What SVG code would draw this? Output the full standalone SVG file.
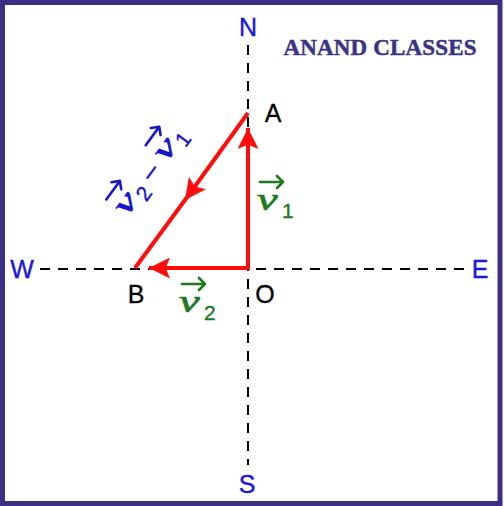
<svg xmlns="http://www.w3.org/2000/svg" width="504" height="506" viewBox="0 0 504 506">
<style>
.axis{stroke:#000;stroke-width:2;stroke-dasharray:10 8;fill:none}
.vec{stroke:#ff0d0d;stroke-width:4;fill:none}
.dir{font-family:"Liberation Sans",Arial,sans-serif;font-size:25px;fill:#1a1ad6;text-anchor:middle;stroke:#1a1ad6;stroke-width:0.4}
.pt{font-family:"Liberation Sans",Arial,sans-serif;font-size:25px;fill:#000;text-anchor:middle;stroke:#000;stroke-width:0.3}
.vv{font-family:"Liberation Serif","Times New Roman",serif;font-style:italic;font-size:31px;stroke-width:0.7}
.sub{font-family:"Liberation Sans",Arial,sans-serif;font-size:21px;stroke-width:0.4}
.ovg{stroke:#1f7a1f;stroke-width:2.6;fill:none;stroke-linecap:round;stroke-linejoin:round}
.ovb{stroke:#1515cc;stroke-width:2.6;fill:none;stroke-linecap:round;stroke-linejoin:round}
.green{fill:#1f7a1f;stroke:#1f7a1f}
.blue{fill:#1515cc;stroke:#1515cc}
</style>
<defs>
<marker id="ah" viewBox="0 0 20 20" refX="20" refY="10" markerWidth="21" markerHeight="21" markerUnits="userSpaceOnUse" orient="auto-start-reverse">
<path d="M0,0 L20,10 L0,20 L4,10 Z" fill="#ff0d0d"/>
</marker>
</defs>
<rect x="2.5" y="2.5" width="497.5" height="501" fill="#fff" stroke="#3a2f85" stroke-width="5"/>
<g id="title"><text x="380" y="55" font-family="Liberation Serif,'Times New Roman',serif" font-weight="bold" font-size="23" fill="#3a3388" stroke="#3a3388" stroke-width="0.5" text-anchor="middle" textLength="193">ANAND CLASSES</text></g>
<g id="axes">
<line class="axis" x1="248" y1="45" x2="248" y2="465"/>
<line class="axis" x1="40" y1="269" x2="465" y2="269"/>
</g>
<g id="connectors">
<path class="vec" d="M248,128 L248,268 L149,268" marker-start="url(#ah)" marker-end="url(#ah)"/>
<path class="vec" d="M248,113 L185,200 L135,268" marker-mid="url(#ah)"/>
</g>
<g id="N"><text class="dir" x="248" y="36">N</text></g>
<g id="S"><text class="dir" x="247" y="493">S</text></g>
<g id="W"><text class="dir" x="22" y="278">W</text></g>
<g id="E"><text class="dir" x="480" y="278">E</text></g>
<g id="A"><text class="pt" x="273" y="122">A</text></g>
<g id="B"><text class="pt" x="136" y="303">B</text></g>
<g id="O"><text class="pt" x="265" y="303">O</text></g>
<g id="v1">
<path class="ovg" d="M260,182 H283 M277,176 L283,182 L277,188"/>
<text class="vv green" transform="translate(257,210) scale(1.5,1)">v</text>
<text class="sub green" x="282" y="218">1</text>
</g>
<g id="v2">
<path class="ovg" d="M182,284 H205 M199,278 L205,284 L199,290"/>
<text class="vv green" transform="translate(179,312) scale(1.5,1)">v</text>
<text class="sub green" x="204" y="320">2</text>
</g>
<g id="v2minusv1" transform="translate(127,217) rotate(-54)">
<path class="ovb" d="M2,-27 H25 M19,-33 L25,-27 L19,-21"/>
<text class="vv blue" transform="scale(1.5,1)">v</text>
<text class="sub blue" x="23" y="7">2</text>
<text class="blue" x="43" y="0" font-family="Liberation Sans,Arial,sans-serif" font-size="26" stroke-width="0.4">–</text>
<path class="ovb" d="M69,-27 H92 M86,-33 L92,-27 L86,-21"/>
<text class="vv blue" transform="translate(67,0) scale(1.5,1)">v</text>
<text class="sub blue" x="90" y="7">1</text>
</g>
</svg>
